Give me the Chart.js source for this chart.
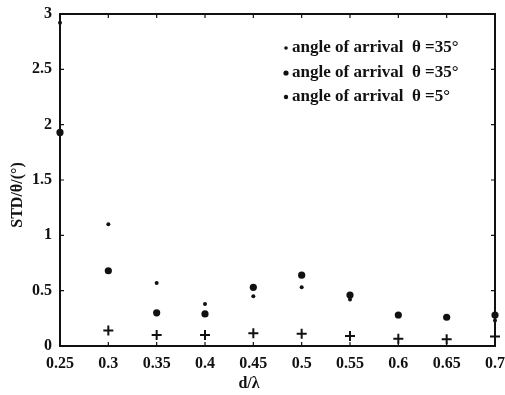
<!DOCTYPE html>
<html>
<head>
<meta charset="utf-8">
<script src="https://cdn.jsdelivr.net/npm/chart.js@4/dist/chart.umd.min.js"></script>
<style>
html, body { margin: 0; padding: 0; background: #fff; }
#wrap { width: 505px; height: 395px; }
</style>
</head>
<body>
<div id="wrap"><canvas id="myChart"></canvas></div>
<script>
var dValues = [0.25, 0.3, 0.35, 0.4, 0.45, 0.5, 0.55, 0.6, 0.65, 0.7];
var std35a = [2.92, 1.10, 0.57, 0.38, 0.45, 0.53, 0.42, 0.28, 0.26, 0.23];
var std35b = [1.93, 0.68, 0.30, 0.29, 0.53, 0.64, 0.46, 0.28, 0.26, 0.28];
var std5 = [null, 0.14, 0.10, 0.10, 0.115, 0.11, 0.09, 0.066, 0.06, 0.085];
var seriesLabels = ['angle of arrival  \u03b8 =35\u00b0', 'angle of arrival  \u03b8 =35\u00b0', 'angle of arrival  \u03b8 =5\u00b0'];
var xTicks = [0.25, 0.3, 0.35, 0.4, 0.45, 0.5, 0.55, 0.6, 0.65, 0.7];
var yTicks = [0, 0.5, 1, 1.5, 2, 2.5, 3];

var ink = '#111';
var serif = '"Liberation Serif", "DejaVu Serif", serif';

function pts(vals) {
    var out = [];
    for (var i = 0; i < dValues.length; i++) {
        if (vals[i] !== null) out.push({ x: dValues[i], y: vals[i] });
    }
    return out;
}

// box, inward ticks, legend and axis titles
var decor = {
    id: 'decor',
    afterDraw: function (chart) {
        var c = chart.ctx, a = chart.chartArea;
        var xs = chart.scales.x, ys = chart.scales.y;
        c.save();
        c.strokeStyle = ink;
        c.lineWidth = 2;
        c.strokeRect(a.left, a.top, a.right - a.left, a.bottom - a.top);
        c.lineWidth = 1.2;
        c.beginPath();
        xTicks.forEach(function (v) {
            var px = xs.getPixelForValue(v);
            c.moveTo(px, a.bottom); c.lineTo(px, a.bottom - 4);
            c.moveTo(px, a.top); c.lineTo(px, a.top + 4);
        });
        yTicks.forEach(function (v) {
            var py = ys.getPixelForValue(v);
            c.moveTo(a.left, py); c.lineTo(a.left + 4, py);
            c.moveTo(a.right, py); c.lineTo(a.right - 4, py);
        });
        c.stroke();

        // legend
        c.fillStyle = ink;
        c.font = 'bold 17px ' + serif;
        c.textBaseline = 'middle';
        c.textAlign = 'left';
        var rows = [48, 73, 97];
        var radii = [1.8, 2.6, 2.2];
        chart.data.datasets.forEach(function (ds, i) {
            c.beginPath();
            c.arc(286, rows[i], radii[i], 0, Math.PI * 2);
            c.fill();
            c.fillText(ds.label, 292, rows[i]);
        });

        // axis titles
        c.font = 'bold 16px ' + serif;
        c.textAlign = 'center';
        c.fillText('d/\u03bb', 249, 384);
        c.translate(18, 195);
        c.rotate(-Math.PI / 2);
        c.fillText('STD/\u03b8/(\u00b0)', 0, 0);
        c.restore();
    }
};

var ctx = document.getElementById('myChart').getContext('2d');
var myChart = new Chart(ctx, {
    type: 'scatter',
    data: {
        datasets: [{
            label: seriesLabels[0],
            data: pts(std35a),
            pointStyle: 'circle',
            pointRadius: 2,
            backgroundColor: ink,
            borderColor: ink,
            borderWidth: 0,
            clip: false
        }, {
            label: seriesLabels[1],
            data: pts(std35b),
            pointStyle: 'circle',
            pointRadius: 3.6,
            backgroundColor: ink,
            borderColor: ink,
            borderWidth: 0,
            clip: false
        }, {
            label: seriesLabels[2],
            data: pts(std5),
            pointStyle: 'cross',
            pointRadius: 5,
            backgroundColor: ink,
            borderColor: ink,
            borderWidth: 2,
            clip: false
        }]
    },
    options: {
        responsive: true,
        maintainAspectRatio: false,
        animation: false,
        layout: { padding: { top: 14, right: 6, left: 0, bottom: 0 } },
        plugins: {
            legend: { display: false },
            tooltip: { enabled: false }
        },
        scales: {
            x: {
                type: 'linear',
                min: 0.25,
                max: 0.7,
                afterBuildTicks: function (s) { s.ticks = xTicks.map(function (v) { return { value: v }; }); },
                afterFit: function (s) { s.height = 49; },
                grid: { display: false },
                border: { display: false },
                ticks: {
                    color: ink,
                    padding: 0,
                    maxRotation: 0,
                    autoSkip: false,
                    font: { family: serif, size: 16, weight: 'bold' },
                    callback: function (v) { return String(Math.round(v * 100) / 100); }
                }
            },
            y: {
                min: 0,
                max: 3,
                afterBuildTicks: function (s) { s.ticks = yTicks.map(function (v) { return { value: v }; }); },
                afterFit: function (s) { s.width = 60; },
                grid: { display: false },
                border: { display: false },
                ticks: {
                    color: ink,
                    padding: 0,
                    font: { family: serif, size: 16, weight: 'bold' },
                    callback: function (v) { return String(v); }
                }
            }
        }
    },
    plugins: [decor]
});
</script>
</body>
</html>
